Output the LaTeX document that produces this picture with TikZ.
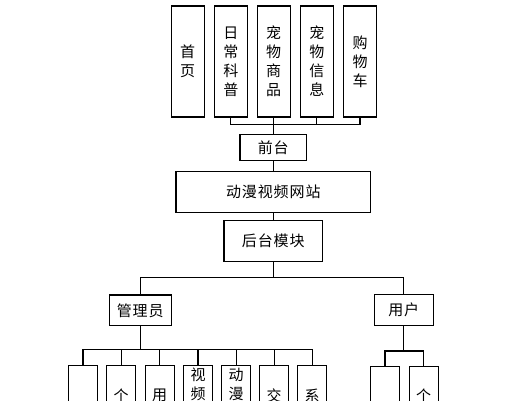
\documentclass[tikz,border=0pt]{standalone}
\usepackage{fontspec}
\newfontfamily\cjk[LetterSpace=6]{Noto Sans CJK SC}
\begin{document}
\begin{tikzpicture}[x=1pt,y=-1pt,
  box/.style={draw,line width=1.1pt,inner sep=0pt,font=\cjk\fontsize{15}{19}\selectfont,align=center},
  vbox/.style={box,minimum width=33pt,minimum height=111pt},
  leaf/.style={draw,line width=1.1pt,inner sep=0pt,minimum width=29pt,minimum height=70pt,anchor=north},
  vtext/.style={inner sep=0pt,anchor=north,font=\cjk\fontsize{15}{19}\selectfont,align=center},
  conn/.style={line width=1.1pt}]
\useasboundingbox (0,0) rectangle (524,400);
\clip (0,0) rectangle (524,400);
% top row
\node[vbox] (t1) at (187.7,61.5) {首\\页};
\node[vbox] (t2) at (230.8,61.5) {日\\常\\科\\普};
\node[vbox] (t3) at (273.7,61.5) {宠\\物\\商\\品};
\node[vbox] (t4) at (316.8,61.5) {宠\\物\\信\\息};
\node[vbox] (t5) at (360,61.5) {购\\物\\车};
\node[box,minimum width=66.7pt,minimum height=26pt] (qt) at (273.3,147.7) {前台};
\node[box,minimum width=194.7pt,minimum height=40.6pt] (site) at (273.3,192) {动漫视频网站};
\node[box,minimum width=98.6pt,minimum height=41pt] (ht) at (273.3,241.2) {后台模块};
\node[box,minimum width=61.7pt,minimum height=30.7pt] (adm) at (140.2,310.3) {管理员};
\node[box,minimum width=59pt,minimum height=31.4pt] (usr) at (403.8,310) {用户};
% junctions
\coordinate (j1) at (273.3,124.3);
\coordinate (j2) at (273.3,277.7);
\coordinate (j3) at (140.2,349.5);
\coordinate (j4) at (403.8,351);
% connectors top
\draw[conn] (qt.north) -- (j1);
\foreach \n in {t2,t3,t4,t5} \draw[conn] (\n.south) |- (j1);
\draw[conn] (qt.south) -- (site.north);
\draw[conn] (site.south) -- (ht.north);
\draw[conn] (ht.south) -- (j2);
\draw[conn] (adm.north) |- (j2);
\draw[conn] (usr.north) |- (j2);
% admin leaves
\node[leaf] (a1) at (83,365) {};
\node[leaf] (a2) at (121.2,365) {};
\node[leaf] (a3) at (159.6,365) {};
\node[leaf] (a4) at (198,365) {};
\node[leaf] (a5) at (236.2,365) {};
\node[leaf] (a6) at (274.2,365) {};
\node[leaf] (a7) at (312.2,365) {};
\draw[conn] (adm.south) -- (j3);
\foreach \n in {a1,a2,a3,a4,a5,a6,a7} \draw[conn] (\n.north) |- (j3);
\node[vtext] (la2) at (121.2,389) {个};
\node[vtext] (la3) at (159.6,389) {用};
\node[vtext] (la4) at (198,368) {视\\频};
\node[vtext] (la5) at (236.2,368) {动\\漫};
\node[vtext] (la6) at (274.2,389) {交};
\node[vtext] (la7) at (312.2,389) {系};
% user leaves
\node[leaf] (u1) at (385,366) {};
\node[leaf] (u2) at (423.7,366) {};
\draw[conn] (usr.south) -- (j4);
\foreach \n in {u1,u2} \draw[conn] (\n.north) |- (j4);
\node[vtext] (lu2) at (423.7,389) {个};
\end{tikzpicture}
\end{document}
